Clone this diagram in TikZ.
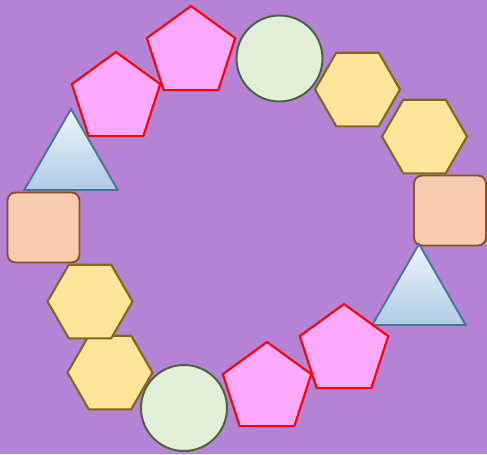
\documentclass[tikz,border=0pt]{standalone}
\usetikzlibrary{shapes.geometric}
\definecolor{bgpurple}{HTML}{B583D6}
\definecolor{pentafill}{HTML}{FFA8FF}
\definecolor{discfill}{HTML}{E1EED8}
\definecolor{discline}{HTML}{46663A}
\definecolor{hexfill}{HTML}{FFE599}
\definecolor{hexline}{HTML}{84681A}
\definecolor{boxfill}{HTML}{F8CBAD}
\definecolor{boxline}{HTML}{8F4F27}
\definecolor{trilight}{HTML}{EEF5FB}
\definecolor{tridark}{HTML}{AECBE5}
\definecolor{triline}{HTML}{4A7696}
\begin{document}
\begin{tikzpicture}[x=0.02cm, y=-0.02cm,
    penta/.style={regular polygon, regular polygon sides=5, minimum size=1.86cm, inner sep=0pt,
        draw=red, fill=pentafill, line width=1.2pt},
    disc/.style={circle, minimum size=1.72cm, inner sep=0pt, draw=discline, fill=discfill, line width=1.1pt},
    hexa/.style={regular polygon, regular polygon sides=6, minimum size=1.7cm, inner sep=0pt,
        draw=hexline, fill=hexfill, line width=1.2pt},
    roundbox/.style={rectangle, rounded corners=0.16cm, minimum width=1.44cm, minimum height=1.4cm,
        inner sep=0pt, draw=boxline, fill=boxfill, line width=1.1pt},
    tri/.style={regular polygon, regular polygon sides=3, minimum size=2.16cm, inner sep=0pt,
        draw=triline, top color=trilight, bottom color=tridark, line width=1.1pt}]
    \fill[bgpurple] (0,0) rectangle (487,454);
    % ring of shapes, clockwise from the top
    \node[disc] (disc1) at (279.5,58.5) {};
    \node[hexa] (hex1) at (357.5,89.5) {};
    \node[hexa] (hex2) at (424.5,136.5) {};
    \node[roundbox] (box1) at (450,210.5) {};
    \node[tri] (tri1) at (419,298) {};
    \node[penta] (pent1) at (344,350.5) {};
    \node[penta] (pent2) at (267,388.5) {};
    \node[disc] (disc2) at (184,408) {};
    \node[hexa] (hex3) at (110,372.5) {};
    \node[hexa] (hex4) at (90,301.5) {};
    \node[roundbox] (box2) at (43.5,227.5) {};
    \node[tri] (tri2) at (71,163) {};
    \node[penta] (pent3) at (116,98.5) {};
    \node[penta] (pent4) at (191,52.5) {};
\end{tikzpicture}
\end{document}
